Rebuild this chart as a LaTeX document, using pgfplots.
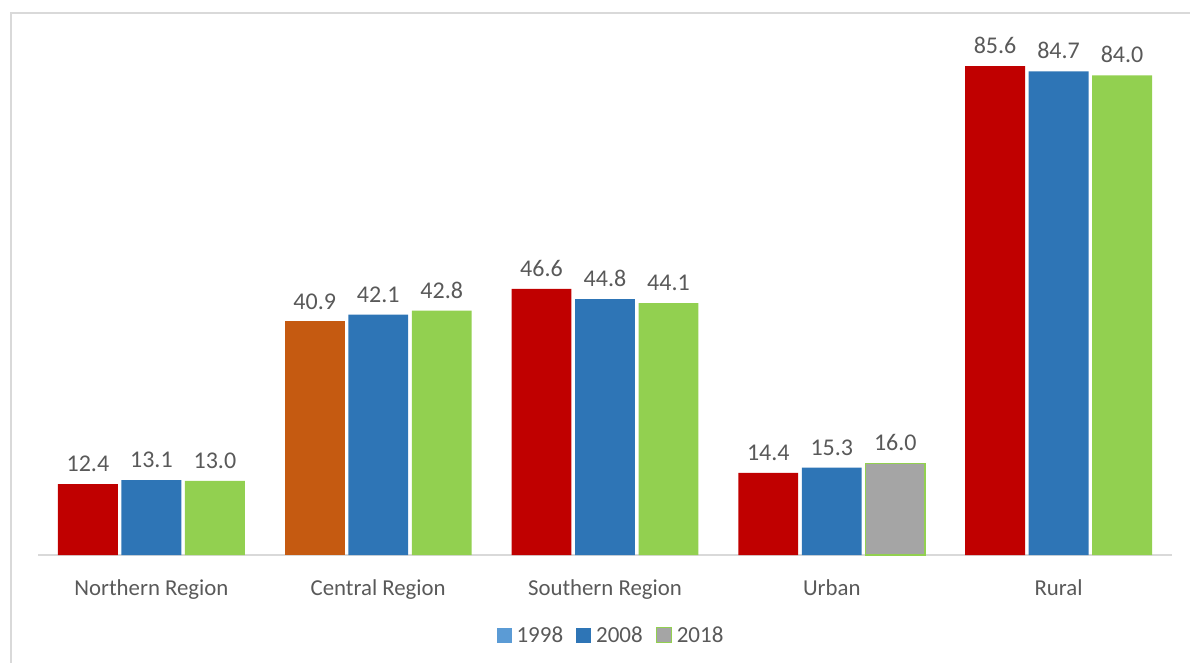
\documentclass[border=0pt]{standalone}
\usepackage{pgfplots}
\pgfplotsset{compat=1.18}
\usepackage{fontspec}
\setmainfont{Carlito}
\definecolor{cRed}{HTML}{C00000}
\definecolor{cOrange}{HTML}{C55A11}
\definecolor{cBlue}{HTML}{2E75B6}
\definecolor{cLightBlue}{HTML}{5B9BD5}
\definecolor{cGreen}{HTML}{92D050}
\definecolor{cGray}{HTML}{A5A5A5}
\definecolor{txtGray}{HTML}{595959}
\definecolor{lineGray}{HTML}{D9D9D9}
\begin{document}
\begin{tikzpicture}
\begin{axis}[
  at={(0pt,0pt)}, anchor=south west,
  scale only axis, width=1134pt, height=514pt,
  xmin=-0.5, xmax=4.5, ymin=0, ymax=90,
  clip=false,
  axis line style={draw=none},
  tick style={draw=none},
  ytick=\empty,
  xtick={0,1,2,3,4},
  xticklabels={Northern Region,Central Region,Southern Region,Urban,Rural},
  xticklabel style={anchor=base, yshift=-36pt, inner sep=0pt, text=txtGray, font=\fontsize{22.8}{26}\selectfont},
  ybar, bar width=0.264,
  point meta=explicit symbolic,
  nodes near coords,
  every node near coord/.append style={anchor=south, inner sep=0pt, yshift=12pt, text=txtGray, font=\fontsize{24}{28}\selectfont},
  legend columns=3,
  legend style={draw=none, fill=none, at={(0.5044,-0.1557)}, anchor=center,
    font=\fontsize{23}{26}\selectfont, text=txtGray,
    /tikz/every even column/.append style={column sep=13pt},
    nodes={inner sep=0pt}},
  legend image code/.code={\path[#1] (0pt,-7.5pt) rectangle (15pt,7.5pt);},
]
\draw[lineGray, line width=1.5pt] (axis cs:-0.5,0) -- (axis cs:4.5,0);
% 1998
\addplot[fill=cRed, draw=none, bar shift=-0.28, forget plot] coordinates {(0,12.4) [12.4] (2,46.6) [46.6] (3,14.4) [14.4] (4,85.6) [85.6]};
\addplot[fill=cOrange, draw=none, bar shift=-0.28, forget plot] coordinates {(1,40.9) [40.9]};
% 2008
\addplot[fill=cBlue, draw=none, bar shift=0, forget plot] coordinates {(0,13.1) [13.1] (1,42.1) [42.1] (2,44.8) [44.8] (3,15.3) [15.3] (4,84.7) [84.7]};
% 2018
\addplot[fill=cGreen, draw=none, bar shift=0.28, forget plot] coordinates {(0,13.0) [13.0] (1,42.8) [42.8] (2,44.1) [44.1] (4,84.0) [84.0]};
\addplot[fill=cGray, draw=cGreen, line width=1.5pt, bar shift=0.28, forget plot] coordinates {(3,16.0) [16.0]};
\addlegendimage{fill=cLightBlue, draw=none}
\addlegendentry{\hspace{5pt}1998}
\addlegendimage{fill=cBlue, draw=none}
\addlegendentry{\hspace{5pt}2008}
\addlegendimage{fill=cGray, draw=cGreen, line width=1pt}
\addlegendentry{\hspace{5pt}2018}
\end{axis}
\draw[lineGray, line width=2pt] (-27pt,-110pt) -- (-27pt,542pt) -- (1155pt,542pt);
\pgfresetboundingbox
\useasboundingbox (-38pt,-108pt) rectangle (1152pt,555pt);
\end{tikzpicture}
\end{document}
